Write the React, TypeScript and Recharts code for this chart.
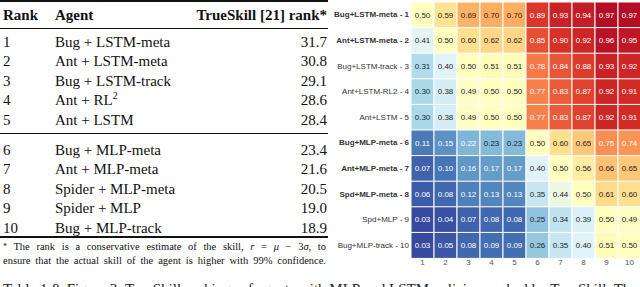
import React from 'react';
import { BarChart, Bar, XAxis, YAxis, Cell, LabelList } from 'recharts';

// ---------- table data ----------
const ranks = [1, 2, 3, 4, 5, 6, 7, 8, 9, 10];
const agents = [
  'Bug + LSTM-meta',
  'Ant + LSTM-meta',
  'Bug + LSTM-track',
  'Ant + RL',
  'Ant + LSTM',
  'Bug + MLP-meta',
  'Ant + MLP-meta',
  'Spider + MLP-meta',
  'Spider + MLP',
  'Bug + MLP-track',
];
const trueSkill = ['31.7', '30.8', '29.1', '28.6', '28.4', '23.4', '21.6', '20.5', '19.0', '18.9'];

// ---------- heatmap data ----------
const heatLabels = [
  'Bug+LSTM-meta - 1',
  'Ant+LSTM-meta - 2',
  'Bug+LSTM-track - 3',
  'Ant+LSTM-RL2 - 4',
  'Ant+LSTM - 5',
  'Bug+MLP-meta - 6',
  'Ant+MLP-meta - 7',
  'Spd+MLP-meta - 8',
  'Spd+MLP - 9',
  'Bug+MLP-track - 10',
];
const boldRows = [0, 1, 5, 6, 7];
const colTicks = [1, 2, 3, 4, 5, 6, 7, 8, 9, 10];

const row1 = [0.5, 0.59, 0.69, 0.7, 0.7, 0.89, 0.93, 0.94, 0.97, 0.97];
const row2 = [0.41, 0.5, 0.6, 0.62, 0.62, 0.85, 0.9, 0.92, 0.96, 0.95];
const row3 = [0.31, 0.4, 0.5, 0.51, 0.51, 0.78, 0.84, 0.88, 0.93, 0.92];
const row4 = [0.3, 0.38, 0.49, 0.5, 0.5, 0.77, 0.83, 0.87, 0.92, 0.91];
const row5 = [0.3, 0.38, 0.49, 0.5, 0.5, 0.77, 0.83, 0.87, 0.92, 0.91];
const row6 = [0.11, 0.15, 0.22, 0.23, 0.23, 0.5, 0.6, 0.65, 0.75, 0.74];
const row7 = [0.07, 0.1, 0.16, 0.17, 0.17, 0.4, 0.5, 0.56, 0.66, 0.65];
const row8 = [0.06, 0.08, 0.12, 0.13, 0.13, 0.35, 0.44, 0.5, 0.61, 0.6];
const row9 = [0.03, 0.04, 0.07, 0.08, 0.08, 0.25, 0.34, 0.39, 0.5, 0.49];
const row10 = [0.03, 0.05, 0.08, 0.09, 0.09, 0.26, 0.35, 0.4, 0.51, 0.5];
const matrix = [row1, row2, row3, row4, row5, row6, row7, row8, row9, row10];

// ---------- colour map (RdYlBu reversed) ----------
const stops = ['#313695', '#4575b4', '#74add1', '#abd9e9', '#e0f3f8', '#ffffbf', '#fee090', '#fdae61', '#f46d43', '#d73027', '#a50026'];
const hexToRgb = (h: string) => [parseInt(h.slice(1, 3), 16), parseInt(h.slice(3, 5), 16), parseInt(h.slice(5, 7), 16)];
function colorFor(v: number): string {
  const t = Math.max(0, Math.min(1, v)) * 10;
  const i = Math.min(9, Math.floor(t));
  const f = t - i;
  const a = hexToRgb(stops[i]);
  const b = hexToRgb(stops[i + 1]);
  const c = a.map((x, k) => Math.round(x + (b[k] - x) * f));
  return `rgb(${c[0]},${c[1]},${c[2]})`;
}
const textColorFor = (v: number) => (v <= 0.22 || v >= 0.74 ? '#ffffff' : '#262626');

const heatData = heatLabels.map((label, r) => {
  const o: any = { label };
  matrix[r].forEach((v, c) => {
    o['v' + c] = v;
    o['w' + c] = 1;
  });
  return o;
});

const cols = colTicks.map((_, i) => i);

const CellLabel = (props: any) => {
  const { x, y, width, height, value } = props;
  if (value == null) return null;
  return (
    <text
      x={x + width / 2}
      y={y + height / 2}
      textAnchor="middle"
      dominantBaseline="central"
      fontSize={8}
      fontFamily="'Liberation Sans', Arial, sans-serif"
      fill={textColorFor(value)}
    >
      {Number(value).toFixed(2)}
    </text>
  );
};

const RowTick = (props: any) => {
  const { x, y, payload, index } = props;
  const bold = boldRows.includes(index);
  return (
    <text
      x={x}
      y={y}
      textAnchor="end"
      dominantBaseline="central"
      fontSize={8}
      fontWeight={bold ? 'bold' : 'normal'}
      fontFamily="'Liberation Sans', Arial, sans-serif"
      fill="#333"
    >
      {payload.value}
    </text>
  );
};

const serif = "'Liberation Serif', 'Times New Roman', serif";
const rowCenters = [42, 61.5, 81, 100.5, 120, 150, 169.5, 189, 208.5, 228];

export default function App() {
  return (
    <div style={{ position: 'fixed', left: 0, top: 0, width: 640, height: 287, overflow: 'hidden', background: '#fff' }}>
      {/* Table */}
      <div style={{ position: 'absolute', left: 0, top: 0, width: 328, height: 287, fontFamily: serif, color: '#111' }}>
        <div style={{ position: 'absolute', left: 0, top: 0, width: 328, height: 2, background: '#111' }} />
        <div style={{ position: 'absolute', left: 3, top: 6, fontSize: 15, fontWeight: 'bold', lineHeight: '19px' }}>Rank</div>
        <div style={{ position: 'absolute', left: 55, top: 6, fontSize: 15, fontWeight: 'bold', lineHeight: '19px' }}>Agent</div>
        <div style={{ position: 'absolute', right: 1, top: 6, fontSize: 15, fontWeight: 'bold', lineHeight: '19px', textAlign: 'right' }}>
          TrueSkill [21] rank*
        </div>
        <div style={{ position: 'absolute', left: 0, top: 28, width: 328, height: 1, background: '#111' }} />
        {ranks.map((r, i) => (
          <React.Fragment key={r}>
            <div style={{ position: 'absolute', left: 3, top: rowCenters[i] - 9.5, fontSize: 15, lineHeight: '19px' }}>{r}</div>
            <div style={{ position: 'absolute', left: 55, top: rowCenters[i] - 9.5, fontSize: 15, lineHeight: '19px', whiteSpace: 'nowrap' }}>
              {agents[i]}
              {i === 3 ? <sup style={{ fontSize: 10, verticalAlign: 0, position: 'relative', top: -6 }}>2</sup> : null}
            </div>
            <div style={{ position: 'absolute', right: 1, top: rowCenters[i] - 9.5, fontSize: 15, lineHeight: '19px', textAlign: 'right' }}>
              {trueSkill[i]}
            </div>
          </React.Fragment>
        ))}
        <div style={{ position: 'absolute', left: 0, top: 133, width: 328, height: 1, background: '#111' }} />
        <div style={{ position: 'absolute', left: 0, top: 236, width: 328, height: 1.5, background: '#111' }} />
        <div
          style={{
            position: 'absolute',
            left: 3,
            top: 240,
            width: 323,
            fontSize: 10.5,
            lineHeight: '14px',
            textAlign: 'justify',
            textAlignLast: 'justify',
            whiteSpace: 'nowrap',
          }}
        >
          <span style={{ fontSize: 8, verticalAlign: 'top' }}>*</span> The rank is a conservative estimate of the skill, <i>r</i> = <i>μ</i> − 3<i>σ</i>, to
        </div>
        <div
          style={{
            position: 'absolute',
            left: 3,
            top: 254,
            width: 323,
            fontSize: 10.5,
            lineHeight: '14px',
            textAlign: 'justify',
            textAlignLast: 'justify',
            whiteSpace: 'nowrap',
          }}
        >
          ensure that the actual skill of the agent is higher with 99% confidence.
        </div>
      </div>

      {/* Caption (clipped at bottom, as in the source page) */}
      <div
        style={{
          position: 'absolute',
          left: 3,
          top: 280,
          width: 634,
          fontFamily: serif,
          fontSize: 15,
          lineHeight: '19px',
          color: '#222',
          whiteSpace: 'nowrap',
          textAlign: 'justify',
          textAlignLast: 'justify',
        }}
      >
        Table 1 &amp; Figure 3: TrueSkill rankings of agents with MLP and LSTM policies, ranked by TrueSkill. The
      </div>

      {/* Heatmap */}
      <div style={{ position: 'absolute', left: 330, top: 0 }}>
        <BarChart
          width={311}
          height={287}
          data={heatData}
          layout="vertical"
          margin={{ top: 2, right: 0, bottom: 9, left: 2 }}
          barCategoryGap={0}
          barGap={0}
        >
          <XAxis
            type="number"
            domain={[0, 10]}
            ticks={colTicks.map((t) => t - 0.5)}
            tickFormatter={(v: number) => String(v + 0.5)}
            axisLine={false}
            tickLine={false}
            tickSize={0}
            tickMargin={1}
            height={20}
            interval={0}
            tick={{ fontSize: 8, fill: '#555', fontFamily: "'Liberation Sans', Arial, sans-serif" }}
          />
          <YAxis
            type="category"
            dataKey="label"
            width={79}
            axisLine={false}
            tickLine={false}
            tickSize={0}
            tickMargin={2}
            interval={0}
            tick={(p: any) => <RowTick {...p} />}
          />
          {cols.map((c) => (
            <Bar key={c} dataKey={'w' + c} stackId="heat" isAnimationActive={false}>
              {heatData.map((row, r) => (
                <Cell key={r} fill={colorFor(row['v' + c])} stroke="#ffffff" strokeWidth={1} />
              ))}
              <LabelList dataKey={'v' + c} content={(p: any) => <CellLabel {...p} />} />
            </Bar>
          ))}
        </BarChart>
      </div>
    </div>
  );
}
